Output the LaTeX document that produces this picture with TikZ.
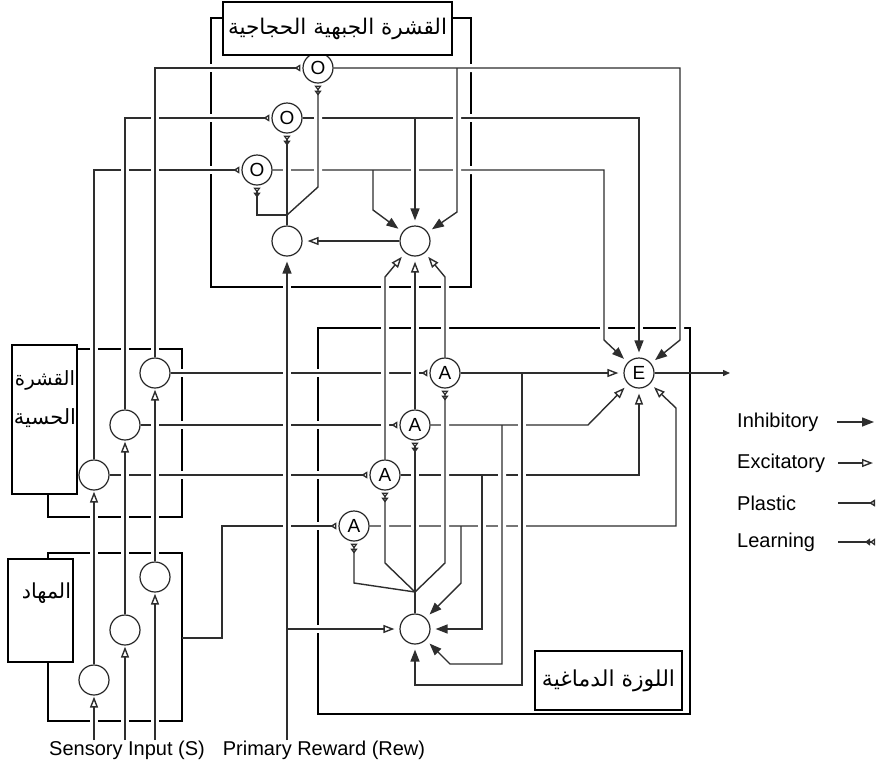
\documentclass[tikz,border=0pt]{standalone}
\usepackage{fontspec}
\usepackage{graphicx}
\setmainfont{Liberation Sans}
\newfontfamily\arabicfont[Script=Arabic]{DejaVu Sans}
\TeXXeTstate=1
\usetikzlibrary{arrows.meta}
\pgfdeclarelayer{boxlayer}
\pgfdeclarelayer{linelayer}
\pgfsetlayers{boxlayer,linelayer,main}
\newcommand{\artext}[2]{\resizebox{#1}{!}{\arabicfont #2}}
\begin{document}
\begin{tikzpicture}[x=1pt,y=-1pt,
  neuron/.style={circle,draw=black!85,line width=1.2pt,fill=white,minimum size=30pt,inner sep=0pt,font=\fontsize{19}{20}\selectfont},
  wire/.style={draw=black!82,line width=1.4pt},
  halo/.style={preaction={draw=white,line width=8pt,-,shorten <=#1,shorten >=#1}},
  halo/.default=5pt,
  inh/.style={-{Triangle[length=12pt,width=9pt]}},
  exc/.style={-{Triangle[open,length=11pt,width=8pt]}},
  pla/.style={-{Triangle[open,reversed,length=6pt,width=7pt]}},
  lrn/.style={-{Triangle[open,reversed,length=5pt,width=7pt]Triangle[open,reversed,length=5pt,width=7pt]}},
  region/.style={draw=black,line width=2.6pt},
  tag/.style={draw=black,line width=1.2pt,fill=white,inner sep=0pt},
  lbl/.style={font=\fontsize{20}{24}\selectfont,inner sep=0pt}
]
\useasboundingbox (0,0) rectangle (876,764);

% ---------- neurons ----------
\node[neuron] (T1) at (94,680) {};
\node[neuron] (T2) at (125,630) {};
\node[neuron] (T3) at (155,577) {};
\node[neuron] (C1) at (94,475) {};
\node[neuron] (C2) at (125,425) {};
\node[neuron] (C3) at (155,373) {};
\node[neuron] (F1) at (287,241) {};
\node[neuron] (F2) at (415,241) {};
\node[neuron] (O1) at (318,68) {O};
\node[neuron] (O2) at (287,118) {O};
\node[neuron] (O3) at (257,170) {O};
\node[neuron] (A1) at (445,373) {A};
\node[neuron] (A2) at (415,425) {A};
\node[neuron] (A3) at (385,475) {A};
\node[neuron] (A4) at (354,526) {A};
\node[neuron] (E) at (639,373) {E};
\node[neuron] (M) at (415,629) {};

% ---------- coordinates ----------
\coordinate (s1) at (94,740);
\coordinate (s2) at (125,740);
\coordinate (s3) at (155,740);
\coordinate (rw) at (287,740);
\coordinate (rwb) at (287,629);
\coordinate (th0) at (182,638);
\coordinate (th1) at (222,638);
\coordinate (o1a) at (680,68);
\coordinate (o1b) at (680,340);
\coordinate (o1x) at (457,68);
\coordinate (o1y) at (457,212);
\coordinate (o2a) at (639,118);
\coordinate (o2x) at (415,118);
\coordinate (o3a) at (604,170);
\coordinate (o3b) at (604,340);
\coordinate (o3x) at (373,170);
\coordinate (o3y) at (373,210);
\coordinate (jF) at (287,215);
\coordinate (lo1) at (318,187);
\coordinate (a3u) at (385,277);
\coordinate (a1u) at (445,277);
\coordinate (a2e) at (588,425);
\coordinate (a3e) at (639,475);
\coordinate (a4e) at (676,526);
\coordinate (a4f) at (676,408);
\coordinate (b1) at (522,373);
\coordinate (b1d) at (522,685);
\coordinate (b2) at (502,425);
\coordinate (b2d) at (502,664);
\coordinate (b2e) at (450,664);
\coordinate (b3) at (482,475);
\coordinate (b4) at (461,526);
\coordinate (b4d) at (461,583);
\coordinate (jA) at (415,592);
\coordinate (l1) at (445,563);
\coordinate (l3) at (385,563);
\coordinate (l4) at (354,583);
\coordinate (eo) at (730,373);

% ---------- region boxes ----------
\begin{pgfonlayer}{boxlayer}
\draw[region] (211,18) rectangle (471,287);
\draw[region] (48,349) rectangle (182,517);
\draw[region] (48,553) rectangle (182,721);
\draw[region] (318,328) rectangle (690,714);
\end{pgfonlayer}

% ---------- connections ----------
\begin{pgfonlayer}{linelayer}
% orbitofrontal outputs
\draw[wire,halo,inh,shorten >=5pt] (O1) -- (o1a) -- (o1b) -- (E);
\draw[wire,halo,inh,shorten >=5pt] (O2) -- (o2a) -- (E);
\draw[wire,halo,inh,shorten >=5pt] (O3) -- (o3a) -- (o3b) -- (E);
% cortex to orbitofrontal
\draw[wire,halo,pla,shorten >=2pt] (C1) |- (O3);
\draw[wire,halo,pla,shorten >=2pt] (C2) |- (O2);
\draw[wire,halo,pla,shorten >=2pt] (C3) |- (O1);
% inputs to amygdala
\draw[wire,halo,pla,shorten >=2pt] (C3) -- (A1);
\draw[wire,halo,pla,shorten >=2pt] (C2) -- (A2);
\draw[wire,halo,pla,shorten >=2pt] (C1) -- (A3);
\draw[wire,halo,pla,shorten >=2pt] (th0) -- (th1) |- (A4);
% amygdala to E
\draw[wire,halo,exc,shorten >=5pt] (A1) -- (E);
\draw[wire,halo,exc,shorten >=5pt] (A2) -- (a2e) -- (E);
\draw[wire,halo,exc,shorten >=5pt] (A3) -- (a3e) -- (E);
\draw[wire,halo,exc,shorten >=5pt] (A4) -- (a4e) -- (a4f) -- (E);
% amygdala feedback to M
\draw[wire,halo,inh,shorten >=5pt] (b1) -- (b1d) -| (M);
\draw[wire,halo,inh,shorten >=5pt] (b2) -- (b2d) -- (b2e) -- (M);
\draw[wire,halo,inh,shorten >=5pt] (b3) |- (M);
\draw[wire,halo,inh,shorten >=5pt] (b4) -- (b4d) -- (M);
% sensory pathway
\draw[wire,halo,exc,shorten >=1pt] (s1) -- (T1);
\draw[wire,halo,exc,shorten >=1pt] (s2) -- (T2);
\draw[wire,halo,exc,shorten >=1pt] (s3) -- (T3);
\draw[wire,halo,exc,shorten >=1pt] (T1) -- (C1);
\draw[wire,halo,exc,shorten >=1pt] (T2) -- (C2);
\draw[wire,halo,exc,shorten >=1pt] (T3) -- (C3);
% reward
\draw[wire,halo,inh,shorten >=5pt] (rw) -- (F1);
\draw[wire,halo,exc,shorten >=5pt] (rwb) -- (M);
% amygdala to F2
\draw[wire,halo,exc,shorten >=5pt] (A3) -- (a3u) -- (F2);
\draw[wire,halo,exc,shorten >=5pt] (A2) -- (F2);
\draw[wire,halo,exc,shorten >=5pt] (A1) -- (a1u) -- (F2);
% F2 to F1
\draw[wire,halo,exc,shorten >=5pt] (F2) -- (F1);
% orbitofrontal to F2
\draw[wire,halo,inh,shorten >=5pt] (o3x) -- (o3y) -- (F2);
\draw[wire,halo,inh,shorten >=5pt] (o2x) -- (F2);
\draw[wire,halo,inh,shorten >=5pt] (o1x) -- (o1y) -- (F2);
% learning signals in orbitofrontal
\draw[wire,halo,lrn,shorten >=2pt] (F1) -- (O2);
\draw[wire,halo=8pt,lrn,shorten >=2pt] (jF) -| (O3);
\draw[wire,halo=8pt,lrn,shorten >=2pt] (jF) -- (lo1) -- (O1);
% learning signals in amygdala
\draw[wire,halo,lrn,shorten >=2pt] (M) -- (A2);
\draw[wire,halo=8pt,lrn,shorten >=2pt] (jA) -- (l1) -- (A1);
\draw[wire,halo=8pt,lrn,shorten >=2pt] (jA) -- (l3) -- (A3);
\draw[wire,halo=8pt,lrn,shorten >=2pt] (jA) -- (l4) -- (A4);
% output
\draw[wire,-{Triangle[length=7pt,width=6pt]}] (E) -- (eo);
\end{pgfonlayer}

% ---------- region labels ----------
\node[tag,minimum width=229pt,minimum height=53pt] (ofc) at (337.5,28.5) {\artext{219pt}{\beginR القشرة الجبهية الحجاجية\endR}};
\node[tag,minimum width=65pt,minimum height=149pt] (sc) at (44.5,419.5) {};
\node[inner sep=0pt] (sct1) at (45,380) {\artext{60pt}{\beginR القشرة\endR}};
\node[inner sep=0pt] (sct2) at (45,418) {\artext{62pt}{\beginR الحسية\endR}};
\node[tag,minimum width=65pt,minimum height=103pt] (thl) at (40.5,610.5) {};
\node[inner sep=0pt] (tht) at (46.5,593) {\artext{49pt}{\beginR المهاد\endR}};
\node[tag,minimum width=147pt,minimum height=59pt] (amy) at (608.5,680.5) {\artext{133pt}{\beginR اللوزة الدماغية\endR}};

% ---------- input labels ----------
\node[lbl] (sens) at (127,750) {Sensory Input (S)};
\node[lbl] (rewl) at (324,750) {Primary Reward (Rew)};

% ---------- legend ----------
\node[lbl,anchor=west] (lg1) at (737,422) {Inhibitory};
\node[lbl,anchor=west] (lg2) at (737,463) {Excitatory};
\node[lbl,anchor=west] (lg3) at (737,503) {Plastic};
\node[lbl,anchor=west] (lg4) at (737,542) {Learning};
\coordinate (lg1a) at (837,422); \coordinate (lg1b) at (874,422);
\coordinate (lg2a) at (838,463); \coordinate (lg2b) at (873,463);
\coordinate (lg3a) at (838,503); \coordinate (lg3b) at (875,503);
\coordinate (lg4a) at (838,542); \coordinate (lg4b) at (875,542);
\draw[wire,inh] (lg1a) -- (lg1b);
\draw[wire,exc] (lg2a) -- (lg2b);
\draw[wire,pla] (lg3a) -- (lg3b);
\draw[wire,lrn] (lg4a) -- (lg4b);
\end{tikzpicture}
\end{document}
